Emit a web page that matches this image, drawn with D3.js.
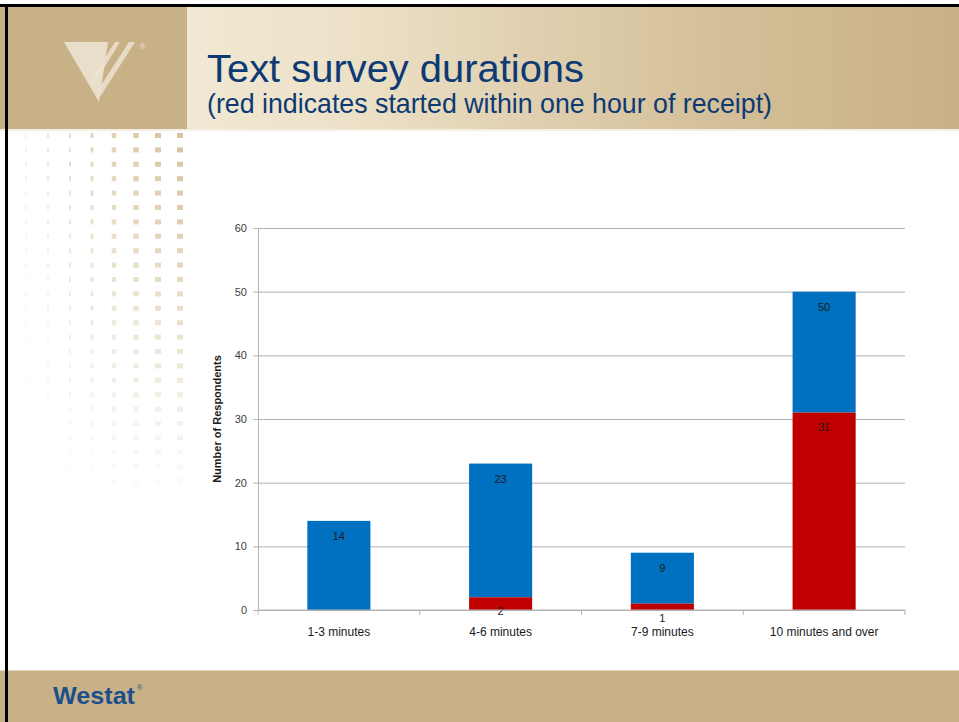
<!DOCTYPE html>
<html>
<head>
<meta charset="utf-8">
<script src="https://cdn.jsdelivr.net/npm/d3@7"></script>
<style>
  body { margin: 0; background: #fff; }
  svg { display: block; }
</style>
</head>
<body>
<svg id="chart" width="959" height="722"></svg>
<script>
// values
var categories = ["1-3 minutes", "4-6 minutes", "7-9 minutes", "10 minutes and over"];
var withinHour = [0, 2, 1, 31];     // red part
var totals = [14, 23, 9, 50];       // top of the blue part
var yTicks = [0, 10, 20, 30, 40, 50, 60];

var svg = d3.select("#chart"),
  W = 959,
  H = 722;

var defs = svg.append("defs");
var grad = defs.append("linearGradient").attr("id", "hdr").attr("x1", 0).attr("x2", 1);
grad.append("stop").attr("offset", "0%").attr("stop-color", "#f7f1e2");
grad.append("stop").attr("offset", "35%").attr("stop-color", "#ede2c9");
grad.append("stop").attr("offset", "75%").attr("stop-color", "#d4bf98");
grad.append("stop").attr("offset", "100%").attr("stop-color", "#c9b187");

// header band
svg.append("rect").attr("x", 0).attr("y", 6).attr("width", W).attr("height", 123).attr("fill", "url(#hdr)");
svg.append("rect").attr("x", 0).attr("y", 6).attr("width", 187).attr("height", 123).attr("fill", "#c9b187");
svg.append("rect").attr("x", 0).attr("y", 129).attr("width", W).attr("height", 2).attr("fill", "#f4efe4");

// logo
var logo = svg.append("g").attr("fill", "#ece3d2");
logo.append("path").attr("d", "M64,42 L108,42 L99,102 Z").attr("opacity", 0.9);
logo.append("path").attr("d", "M115,42 L120,42 L93,86 L91,80 Z").attr("opacity", 0.85);
logo.append("path").attr("d", "M129,42 L135,42 L100,97 L98,90 Z").attr("opacity", 0.85);
svg.append("text").attr("x", 140).attr("y", 49).attr("font-size", 7)
  .attr("font-family", "Liberation Sans, Arial").attr("fill", "#ece3d2").text("®");

// dotted side pattern (decoration)
var colX = [26, 48, 70, 92, 114, 136, 158, 180],
  colW = [1, 1.5, 2, 3, 4.5, 5.5, 6, 6];
for (var r = 0; r < 26; r++) {
  var yy = 133 + r * 14.4;
  for (var c = 0; c < colX.length; c++) {
    var op = Math.max(0, 1 - r / 26) * (0.4 + 0.6 * c / 7);
    svg.append("rect")
      .attr("x", colX[c] - colW[c] / 2)
      .attr("y", yy)
      .attr("width", colW[c])
      .attr("height", 5)
      .attr("fill", "#d6c29d")
      .attr("opacity", op);
  }
}

// titles
svg.append("text")
  .attr("x", 207).attr("y", 82)
  .attr("font-family", "Liberation Sans, Arial")
  .attr("font-size", 38)
  .attr("textLength", 377)
  .attr("lengthAdjust", "spacingAndGlyphs")
  .attr("fill", "#0d3a73")
  .text("Text survey durations");
svg.append("text")
  .attr("x", 207).attr("y", 113)
  .attr("font-family", "Liberation Sans, Arial")
  .attr("font-size", 28)
  .attr("textLength", 565)
  .attr("lengthAdjust", "spacingAndGlyphs")
  .attr("fill", "#0d3a73")
  .text("(red indicates started within one hour of receipt)");

// footer
svg.append("rect").attr("x", 0).attr("y", 670).attr("width", W).attr("height", 52).attr("fill", "#c9b187");
svg.append("rect").attr("x", 0).attr("y", 670).attr("width", W).attr("height", 1).attr("fill", "#e3d6bd");
svg.append("text")
  .attr("x", 53).attr("y", 704)
  .attr("font-family", "Liberation Sans, Arial")
  .attr("font-weight", "bold")
  .attr("font-size", 24)
  .attr("textLength", 82)
  .attr("lengthAdjust", "spacingAndGlyphs")
  .attr("fill", "#1b4f8c")
  .text("Westat");
svg.append("text").attr("x", 137).attr("y", 690).attr("font-size", 7)
  .attr("font-family", "Liberation Sans, Arial").attr("fill", "#1b4f8c").text("®");

// chart
var plotL = 258, plotR = 905, plotT = 228, plotB = 610;
var x = d3.scaleBand().domain(categories).range([plotL, plotR]).paddingInner(0.61).paddingOuter(0.305);
var y = d3.scaleLinear().domain([0, 60]).range([plotB, plotT]);

var font = "Liberation Sans, Arial, sans-serif";

// grid
var grid = svg.append("g").attr("transform", "translate(" + plotL + ",0)")
  .call(d3.axisLeft(y).tickValues(yTicks).tickSize(-(plotR - plotL)).tickFormat(""));
grid.select(".domain").remove();
grid.selectAll("line").attr("stroke", "#b4b4b4");

var yAxis = svg.append("g").attr("transform", "translate(" + plotL + ",0)")
  .call(d3.axisLeft(y).tickValues(yTicks).tickSize(5).tickPadding(6));
yAxis.select(".domain").attr("stroke", "#b4b4b4");
yAxis.selectAll("line").attr("stroke", "#b4b4b4");
yAxis.selectAll("text").attr("font-family", font).attr("font-size", 11).attr("fill", "#404040");

svg.append("text")
  .attr("transform", "translate(221," + (plotT + plotB) / 2 + ") rotate(-90)")
  .attr("text-anchor", "middle")
  .attr("font-family", font)
  .attr("font-weight", "bold")
  .attr("font-size", 11)
  .attr("fill", "#1a1a1a")
  .text("Number of Respondents");

// bars
var bars = svg.append("g");
bars.selectAll(".blue")
  .data(categories)
  .enter()
  .append("rect")
  .attr("x", (d) => x(d))
  .attr("width", x.bandwidth())
  .attr("y", (d, i) => y(totals[i]))
  .attr("height", (d, i) => y(withinHour[i]) - y(totals[i]))
  .attr("fill", "#0070c0");
bars.selectAll(".red")
  .data(categories)
  .enter()
  .append("rect")
  .attr("x", (d) => x(d))
  .attr("width", x.bandwidth())
  .attr("y", (d, i) => y(withinHour[i]))
  .attr("height", (d, i) => y(0) - y(withinHour[i]))
  .attr("fill", "#c00000");

// x axis line with ticks at category boundaries
svg.append("line").attr("x1", plotL).attr("x2", plotR).attr("y1", plotB).attr("y2", plotB).attr("stroke", "#b4b4b4");
svg.selectAll(".xtick")
  .data(d3.range(categories.length + 1))
  .enter()
  .append("line")
  .attr("x1", (i) => plotL + i * x.step())
  .attr("x2", (i) => plotL + i * x.step())
  .attr("y1", plotB)
  .attr("y2", plotB + 5)
  .attr("stroke", "#b4b4b4");
svg.selectAll(".xlab")
  .data(categories)
  .enter()
  .append("text")
  .attr("x", (d) => x(d) + x.bandwidth() / 2)
  .attr("y", 636)
  .attr("text-anchor", "middle")
  .attr("font-family", font)
  .attr("font-size", 12)
  .attr("fill", "#1a1a1a")
  .text((d) => d);

// labels
bars.selectAll(".tl")
  .data(categories)
  .enter()
  .append("text")
  .attr("x", (d) => x(d) + x.bandwidth() / 2)
  .attr("y", (d, i) => y(totals[i]) + 19)
  .attr("text-anchor", "middle")
  .attr("font-family", font)
  .attr("font-size", 11)
  .attr("fill", "#1a1a1a")
  .text((d, i) => totals[i]);
bars.selectAll(".rl")
  .data(categories.filter((d, i) => withinHour[i] > 0))
  .enter()
  .append("text")
  .attr("x", (d) => x(d) + x.bandwidth() / 2)
  .attr("y", (d) => y(withinHour[categories.indexOf(d)]) + 18)
  .attr("text-anchor", "middle")
  .attr("font-family", font)
  .attr("font-size", 11)
  .attr("fill", "#1a1a1a")
  .text((d) => withinHour[categories.indexOf(d)]);

// slide frame
svg.append("rect").attr("x", 0).attr("y", 4).attr("width", W).attr("height", 3).attr("fill", "#000");
svg.append("rect").attr("x", 5).attr("y", 4).attr("width", 3).attr("height", H).attr("fill", "#000");
</script>
</body>
</html>
